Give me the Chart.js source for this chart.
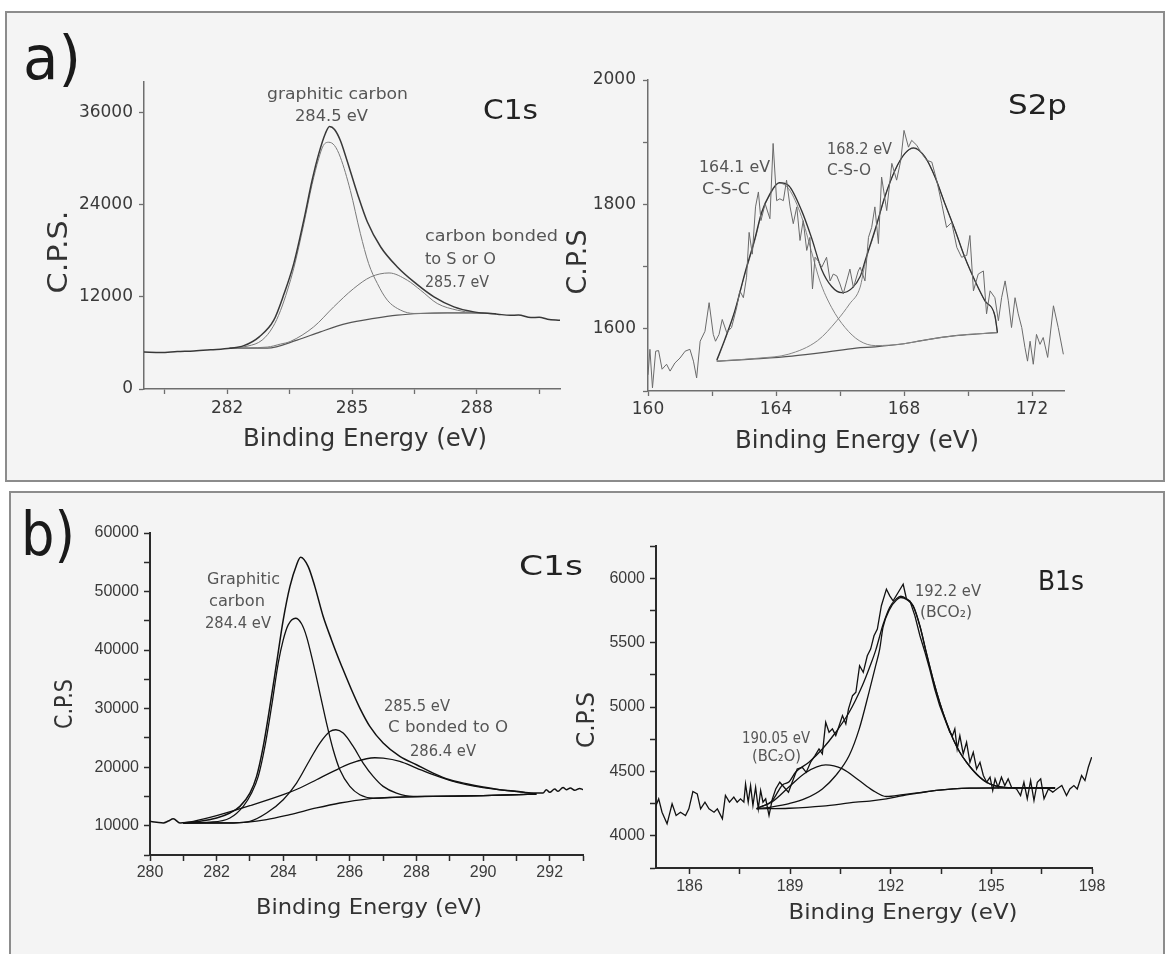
<!DOCTYPE html>
<html><head><meta charset="utf-8">
<script src="https://cdn.jsdelivr.net/npm/chart.js@4.4.1/dist/chart.umd.min.js"></script>
<style>
html,body{margin:0;padding:0;background:#fff;}
#wrap{position:relative;width:1169px;height:954px;overflow:hidden;background:#fff;}
.frame{position:absolute;background:#f4f4f4;border:2px solid #8c8c8c;box-sizing:border-box;}
canvas{position:absolute;left:0;top:0;}
</style></head><body>
<div id="wrap">
<div class="frame" style="left:5px;top:11px;width:1160px;height:471px"></div>
<div class="frame" style="left:9px;top:491px;width:1156px;height:480px"></div>
<canvas id="cA1" width="1169" height="954"></canvas>
<canvas id="cA2" width="1169" height="954"></canvas>
<canvas id="cB1" width="1169" height="954"></canvas>
<canvas id="cB2" width="1169" height="954"></canvas>
</div>
<script>
// ---------------- DATA ----------------
// a) C1s  (binding energy eV, counts per second)
const a1Raw = [[280.0,4810],[280.4,4750],[280.8,4870],[281.2,4950],[281.6,5100],[282.07,5300],[282.4,5650],[282.77,6800],[283.12,8970],[283.36,12300],[283.6,16340],[283.84,21970],[284.04,27170],[284.2,30640],[284.36,33300],[284.46,34190],[284.58,33800],[284.72,32370],[284.88,29770],[285.13,25440],[285.37,21750],[285.69,18500],[286.09,15900],[286.49,13950],[286.97,12000],[287.45,10700],[287.93,10050],[288.5,9750],[288.8,9600],[289.0,9650],[289.3,9300],[289.5,9350],[289.7,9100],[290.0,8970]];
const a1Graphitic = [[282.06,5330],[282.5,5600],[282.84,6370],[283.1,8100],[283.28,10200],[283.45,12900],[283.6,15730],[283.84,21450],[284.04,26650],[284.2,30030],[284.31,31720],[284.44,32150],[284.58,31720],[284.72,30200],[284.96,25870],[285.2,20280],[285.4,16340],[285.61,13740],[285.85,11570],[286.17,10270],[286.49,9840],[287.29,9920],[287.93,9920],[288.46,9800]];
const a1Bonded = [[282.06,5330],[282.96,5460],[283.28,5850],[283.52,6200],[284.08,8100],[284.56,10700],[285.04,13090],[285.45,14600],[285.89,15120],[286.33,14170],[286.65,12870],[287.05,11140],[287.53,10270],[287.93,9920],[288.46,9820]];
const a1Background = [[282.06,5330],[282.96,5330],[283.68,6370],[284.24,7450],[284.88,8540],[285.53,9190],[286.09,9620],[286.65,9840],[287.29,9920],[287.93,9920],[288.46,9820]];

// a) S2p
const a2Raw = [[160.0,1526],[160.06,1567],[160.14,1505],[160.24,1564],[160.33,1565],[160.44,1535],[160.58,1543],[160.69,1532],[160.84,1545],[161.0,1553],[161.16,1564],[161.31,1567],[161.42,1548],[161.52,1521],[161.63,1580],[161.78,1596],[161.91,1642],[162.04,1591],[162.11,1580],[162.22,1591],[162.32,1615],[162.46,1594],[162.61,1602],[162.77,1634],[162.87,1661],[162.98,1650],[163.08,1683],[163.16,1755],[163.26,1720],[163.36,1796],[163.45,1820],[163.53,1774],[163.66,1801],[163.81,1777],[163.91,1898],[164.02,1806],[164.12,1809],[164.23,1806],[164.33,1839],[164.44,1796],[164.54,1769],[164.65,1796],[164.75,1742],[164.85,1774],[164.96,1726],[165.06,1747],[165.14,1664],[165.22,1715],[165.32,1709],[165.43,1699],[165.58,1715],[165.69,1677],[165.79,1688],[165.9,1685],[166.0,1672],[166.1,1656],[166.21,1677],[166.31,1696],[166.42,1666],[166.57,1693],[166.63,1699],[166.78,1677],[166.89,1747],[166.99,1763],[167.09,1796],[167.2,1737],[167.3,1844],[167.46,1790],[167.62,1866],[167.77,1839],[167.9,1871],[168.0,1919],[168.14,1892],[168.24,1903],[168.4,1895],[168.55,1882],[168.71,1871],[168.87,1868],[169.02,1839],[169.18,1801],[169.33,1763],[169.49,1771],[169.65,1731],[169.8,1715],[169.96,1718],[170.06,1750],[170.17,1661],[170.32,1688],[170.48,1693],[170.58,1624],[170.69,1661],[170.84,1650],[170.95,1613],[171.05,1650],[171.16,1677],[171.26,1645],[171.36,1602],[171.47,1650],[171.57,1624],[171.68,1602],[171.78,1570],[171.86,1548],[171.94,1580],[172.04,1543],[172.14,1591],[172.25,1575],[172.35,1586],[172.49,1554],[172.67,1637],[172.82,1602],[172.98,1559]];
const a2Envelope = [[162.15,1550],[162.4,1583],[162.72,1630],[163.03,1690],[163.34,1745],[163.55,1787],[163.81,1817],[164.1,1835],[164.4,1830],[164.8,1790],[165.1,1748],[165.43,1695],[165.74,1668],[166.05,1658],[166.37,1665],[166.63,1684],[166.8,1712],[167.1,1760],[167.4,1812],[167.72,1855],[168.03,1882],[168.3,1891],[168.66,1876],[168.97,1844],[169.28,1801],[169.6,1758],[169.9,1715],[170.22,1677],[170.53,1645],[170.84,1621],[170.92,1594]];
const a2CSC = [[162.15,1548],[162.4,1581],[162.72,1629],[163.03,1688],[163.34,1742],[163.55,1785],[163.81,1815],[164.1,1834],[164.4,1825],[164.8,1780],[165.1,1726],[165.37,1677],[165.74,1634],[166.16,1602],[166.6,1581],[167.1,1573],[168.0,1576],[168.55,1581],[169.6,1589],[170.92,1594]];
const a2CSO = [[162.15,1548],[163.5,1553],[164.38,1559],[165.3,1581],[165.9,1613],[166.3,1640],[166.63,1667],[166.78,1704],[167.1,1758],[167.4,1812],[167.72,1855],[168.03,1882],[168.29,1890],[168.66,1876],[168.97,1844],[169.28,1801],[169.6,1758],[169.9,1715],[170.22,1677],[170.53,1645],[170.84,1621],[170.92,1594]];
const a2Background = [[162.15,1548],[163.5,1552],[164.5,1556],[165.5,1562],[166.5,1569],[167.1,1571],[168.0,1576],[168.55,1581],[169.6,1589],[170.4,1592],[170.92,1594]];

// b) C1s
const b1Raw = [[280.0,10750],[280.2,10600],[280.4,10470],[280.55,10800],[280.7,11200],[280.9,10470],[281.2,10600],[281.5,10750],[282.0,11320],[282.4,12170],[282.7,13310],[283.0,15580],[283.2,18430],[283.4,23550],[283.6,30370],[283.8,37760],[284.0,45160],[284.2,50840],[284.4,54540],[284.52,55850],[284.75,54260],[284.95,50840],[285.2,45730],[285.45,41740],[285.6,39470],[285.8,36630],[286.05,33220],[286.3,30090],[286.6,26960],[287.0,24120],[287.5,21840],[288.0,20420],[288.5,18990],[289.0,17860],[289.5,17180],[290.0,16610],[290.5,16150],[291.0,15870],[291.5,15590],[291.8,15590],[291.9,16160],[292.0,15700],[292.15,16270],[292.25,15870],[292.4,16550],[292.5,16150],[292.62,16440],[292.75,16040],[292.9,16380],[293.0,16150]];
const b1Graphitic = [[281.0,10470],[281.8,10600],[282.4,11320],[282.8,13310],[283.05,15580],[283.25,18430],[283.45,23550],[283.65,30370],[283.85,37760],[284.0,41740],[284.15,44300],[284.37,45440],[284.55,44500],[284.7,42310],[284.9,37760],[285.1,32650],[285.3,27530],[285.5,22980],[285.7,19570],[286.0,16720],[286.3,15300],[286.7,14730],[287.5,14900],[288.5,15020],[290.0,15130],[291.6,15400]];
const b1Peak2855 = [[281.0,10470],[282.5,10500],[283.0,10750],[283.5,12170],[284.0,14450],[284.4,17290],[284.8,21270],[285.1,24120],[285.4,26100],[285.58,26390],[285.8,25820],[286.1,23550],[286.4,20700],[286.7,18430],[287.0,16720],[287.4,15580],[287.9,15020],[288.5,15020],[290.0,15130],[291.6,15400]];
const b1Peak2864 = [[281.0,10470],[281.3,10750],[282.0,11720],[283.0,13420],[284.0,15300],[284.5,16440],[285.0,17860],[285.5,19280],[286.0,20590],[286.5,21440],[286.75,21610],[287.0,21550],[287.5,21000],[288.0,19850],[288.5,18710],[289.0,17750],[289.5,17010],[290.0,16500],[291.0,15810],[291.6,15470]];
const b1Background = [[281.0,10470],[282.5,10470],[283.5,11030],[284.2,11890],[285.0,13030],[285.7,13880],[286.5,14560],[287.5,14900],[288.5,15020],[290.0,15130],[291.6,15400]];

// b) B1s
const b2Raw = [[185.0,4235],[185.08,4287],[185.18,4183],[185.33,4093],[185.48,4248],[185.6,4158],[185.73,4183],[185.88,4158],[185.98,4209],[186.1,4344],[186.23,4326],[186.33,4209],[186.46,4261],[186.58,4209],[186.73,4183],[186.83,4209],[186.98,4132],[187.07,4313],[187.19,4261],[187.32,4300],[187.42,4261],[187.52,4287],[187.62,4261],[187.67,4403],[187.75,4261],[187.82,4390],[187.89,4235],[187.97,4377],[188.05,4209],[188.12,4352],[188.19,4261],[188.27,4287],[188.37,4158],[188.47,4287],[188.57,4364],[188.69,4416],[188.82,4377],[188.95,4339],[189.06,4416],[189.21,4519],[189.36,4532],[189.48,4493],[189.61,4571],[189.74,4623],[189.86,4674],[189.96,4636],[190.06,4881],[190.16,4804],[190.26,4830],[190.36,4778],[190.46,4855],[190.56,4933],[190.66,4868],[190.74,4985],[190.86,5088],[190.96,5114],[191.07,5320],[191.18,5269],[191.3,5398],[191.4,5450],[191.5,5553],[191.6,5605],[191.72,5786],[191.87,5915],[191.97,5863],[192.07,5824],[192.22,5889],[192.37,5953],[192.47,5837],[192.57,5824],[192.72,5708],[192.87,5553],[193.02,5424],[193.16,5295],[193.31,5140],[193.46,5010],[193.61,4907],[193.76,4804],[193.84,4778],[193.91,4830],[193.98,4674],[194.06,4778],[194.16,4636],[194.26,4726],[194.36,4571],[194.46,4649],[194.56,4519],[194.66,4571],[194.76,4468],[194.86,4416],[194.96,4455],[195.04,4352],[195.11,4442],[195.2,4377],[195.3,4455],[195.4,4390],[195.5,4442],[195.6,4377],[195.75,4364],[195.87,4313],[195.97,4416],[196.07,4287],[196.17,4429],[196.27,4274],[196.37,4416],[196.47,4442],[196.57,4287],[196.7,4364],[196.83,4339],[196.95,4364],[197.1,4390],[197.24,4313],[197.34,4364],[197.46,4390],[197.56,4364],[197.69,4468],[197.79,4429],[197.89,4532],[197.99,4610]];
const b2Envelope = [[188.0,4212],[188.47,4275],[188.77,4395],[188.97,4420],[189.16,4493],[189.56,4571],[189.96,4674],[190.36,4804],[190.76,4959],[191.15,5165],[191.4,5330],[191.55,5440],[191.77,5640],[191.97,5775],[192.17,5840],[192.3,5860],[192.47,5840],[192.67,5786],[192.87,5630],[193.06,5424],[193.26,5217],[193.46,5036],[193.66,4881],[193.86,4752],[194.06,4649],[194.26,4571],[194.46,4507],[194.66,4455],[194.86,4416],[195.11,4390],[195.35,4377],[195.85,4372],[196.9,4370]];
const b2BCO2 = [[188.0,4209],[188.47,4225],[188.97,4250],[189.46,4290],[189.96,4364],[190.36,4468],[190.76,4623],[191.06,4830],[191.35,5114],[191.55,5321],[191.67,5450],[191.77,5620],[191.97,5760],[192.17,5830],[192.3,5850],[192.47,5835],[192.67,5780],[192.87,5625],[193.06,5420],[193.26,5215],[193.46,5034],[193.66,4880],[193.86,4750],[194.06,4647],[194.26,4570],[194.46,4505],[194.66,4453],[194.86,4414],[195.11,4388],[195.35,4376],[195.85,4372],[196.9,4370]];
const b2BC2O = [[188.0,4212],[188.47,4265],[188.97,4380],[189.46,4490],[190.06,4550],[190.56,4519],[191.06,4429],[191.45,4355],[191.87,4305],[192.37,4320],[192.87,4336],[193.36,4352],[193.86,4364],[194.36,4370],[195.35,4372],[196.9,4372]];
const b2Background = [[188.0,4209],[188.97,4214],[189.96,4230],[190.96,4261],[191.37,4270],[191.87,4287],[192.37,4313],[192.87,4333],[193.36,4352],[193.86,4364],[194.36,4370],[195.35,4372],[196.9,4372]];

// tick labels
const a1XLabels = [282, 285, 288];
const a1YLabels = [0, 12000, 24000, 36000];
const a2XLabels = [160, 164, 168, 172];
const a2YLabels = [1600, 1800, 2000];
const b1XLabels = [280, 282, 284, 286, 288, 290, 292];
const b1YLabels = [10000, 20000, 30000, 40000, 50000, 60000];
const b2XLabels = [186, 189, 192, 195, 198];
const b2YLabels = [4000, 4500, 5000, 5500, 6000];

// ---------------- DRAWING ----------------
const W = 1169, H = 954;
const SANS = '"DejaVu Sans", "Noto Sans", sans-serif';

function drawLabel(ctx, o) {
  ctx.save();
  ctx.font = (o.weight || 400) + ' ' + o.size + 'px ' + (o.family || SANS);
  ctx.fillStyle = o.color || '#555';
  ctx.textAlign = 'center';
  ctx.textBaseline = 'middle';
  const m = ctx.measureText(o.t).width;
  const sx = o.w ? o.w / m : 1;
  ctx.translate(o.cx, o.cy);
  if (o.rot) ctx.rotate(-Math.PI / 2);
  ctx.scale(sx, 1);
  ctx.fillText(o.t, 0, 0);
  ctx.restore();
}
const textPlugin = {
  id: 'texts',
  afterDraw(chart, args, opts) {
    (opts.items || []).forEach(o => drawLabel(chart.ctx, o));
  }
};

function toXY(arr) { return arr.map(p => ({x: p[0], y: p[1]})); }
function ds(arr, color, width, smooth) {
  return {
    data: toXY(arr), borderColor: color, borderWidth: width, pointRadius: 0,
    fill: false, tension: 0, cubicInterpolationMode: smooth ? 'monotone' : 'default'
  };
}
function axis(o, horizontal, st) {
  return {
    type: 'linear', position: horizontal ? 'bottom' : 'left', min: o.min, max: o.max,
    border: {display: true, color: st.axisColor, width: st.axisWidth},
    grid: {display: true, drawOnChartArea: false, drawTicks: true, tickLength: st.tickLen,
           tickColor: st.axisColor, tickWidth: st.tickWidth},
    ticks: {autoSkip: false, maxRotation: 0, minRotation: 0,
            padding: o.pad, color: st.tickColor,
            font: {family: st.tickFamily, size: st.tickSize},
            callback: v => { const l = o.labels.find(x => Math.abs(x - v) < 1e-6); return l === undefined ? '' : String(l); }},
    afterBuildTicks: s => {
      const t = [];
      const first = Math.ceil((o.min - 1e-9) / o.step) * o.step;
      for (let k = 0; first + k * o.step <= o.max + 1e-9; k++) t.push({value: +(first + k * o.step).toFixed(6)});
      s.ticks = t;
    },
    afterFit: s => { if (horizontal) s.height = o.box; else s.width = o.box; }
  };
}
function makeChart(id, area, xo, yo, datasets, st, items) {
  xo.box = H - area.b; yo.box = area.l;
  new Chart(document.getElementById(id), {
    type: 'line',
    data: {datasets},
    options: {
      responsive: false, animation: false, devicePixelRatio: 1,
      layout: {padding: {left: 0, top: area.t, right: W - area.r, bottom: 0}},
      plugins: {legend: {display: false}, tooltip: {enabled: false}, texts: {items}},
      scales: {x: axis(xo, true, st), y: axis(yo, false, st)}
    },
    plugins: [textPlugin]
  });
}

const styleA = {axisColor: '#6e6e6e', axisWidth: 1.5, tickLen: 5, tickWidth: 1.3, tickColor: '#3a3a3a', tickFamily: SANS, tickSize: 17};
const styleB = {axisColor: '#2a2a2a', axisWidth: 2, tickLen: 6, tickWidth: 1.5, tickColor: '#3a3a3a', tickFamily: '"Liberation Sans", Arial, sans-serif', tickSize: 16};
const gA = '#555', gT = '#333', gH = '#222';

// a) C1s
makeChart('cA1', {l: 144, t: 82, r: 560, b: 389},
  {min: 280, max: 290, step: 1.5, labels: a1XLabels, pad: 4},
  {min: 0, max: 40000, step: 12000, labels: a1YLabels, pad: 6},
  [ds(a1Raw, '#383838', 1.5, true), ds(a1Graphitic, '#7a7a7a', 1, true), ds(a1Bonded, '#7a7a7a', 1, true), ds(a1Background, '#555', 1.2, true)],
  styleA,
  [
    {t: 'a)', cx: 52, cy: 63, w: 58, size: 60, color: '#1a1a1a'},
    {t: 'graphitic carbon', cx: 337.5, cy: 95, w: 141, size: 16, color: gA},
    {t: '284.5 eV', cx: 331.5, cy: 117, w: 73, size: 16, color: gA},
    {t: 'C1s', cx: 510.5, cy: 112, w: 55, size: 26, color: gH},
    {t: 'carbon bonded', cx: 491.5, cy: 237, w: 133, size: 16, color: gA},
    {t: 'to S or O', cx: 460.5, cy: 260, w: 71, size: 16, color: gA},
    {t: '285.7 eV', cx: 457, cy: 283, w: 64, size: 16, color: gA},
    {t: 'C.P.S.', cx: 60, cy: 252, w: 83, size: 27, rot: true, color: gT},
    {t: 'Binding Energy (eV)', cx: 365, cy: 440, w: 244, size: 24, color: gT}
  ]);

// a) S2p
makeChart('cA2', {l: 648, t: 80, r: 1064, b: 391},
  {min: 160, max: 173, step: 2, labels: a2XLabels, pad: 3},
  {min: 1500, max: 2000, step: 100, labels: a2YLabels, pad: 7},
  [ds(a2Raw, '#6a6a6a', 1, false), ds(a2Envelope, '#333', 1.3, true), ds(a2CSC, '#858585', 1, true), ds(a2CSO, '#858585', 1, true), ds(a2Background, '#555', 1.2, true)],
  styleA,
  [
    {t: 'S2p', cx: 1037.5, cy: 107, w: 59, size: 26, color: gH},
    {t: '164.1 eV', cx: 734.5, cy: 168, w: 71, size: 15, color: gA},
    {t: 'C-S-C', cx: 726, cy: 190, w: 48, size: 15, color: gA},
    {t: '168.2 eV', cx: 859.5, cy: 150, w: 65, size: 15, color: gA},
    {t: 'C-S-O', cx: 849, cy: 171, w: 44, size: 15, color: gA},
    {t: 'C.P.S', cx: 579, cy: 262, w: 65, size: 26, rot: true, color: gT},
    {t: 'Binding Energy (eV)', cx: 857, cy: 442, w: 244, size: 24, color: gT}
  ]);

// b) C1s
makeChart('cB1', {l: 150, t: 533, r: 583, b: 855},
  {min: 280, max: 293, step: 1, labels: b1XLabels, pad: 2},
  {min: 5000, max: 60000, step: 5000, labels: b1YLabels, pad: 5},
  [ds(b1Raw, '#111', 1.5, true), ds(b1Graphitic, '#111', 1.3, true), ds(b1Peak2855, '#111', 1.3, true), ds(b1Peak2864, '#111', 1.3, true), ds(b1Background, '#111', 1.3, true)],
  styleB,
  [
    {t: 'b)', cx: 48, cy: 539, w: 54, size: 60, color: '#1a1a1a'},
    {t: 'C1s', cx: 551, cy: 568, w: 64, size: 26, color: gH},
    {t: 'Graphitic', cx: 243.5, cy: 580, w: 73, size: 15, color: gA},
    {t: 'carbon', cx: 237, cy: 602, w: 56, size: 15, color: gA},
    {t: '284.4 eV', cx: 238, cy: 624, w: 66, size: 15, color: gA},
    {t: '285.5 eV', cx: 417, cy: 707, w: 66, size: 15, color: gA},
    {t: 'C bonded to O', cx: 448, cy: 728, w: 120, size: 15, color: gA},
    {t: '286.4 eV', cx: 443, cy: 752, w: 66, size: 15, color: gA},
    {t: 'C.P.S', cx: 66, cy: 704, w: 50, size: 24, rot: true, color: gT},
    {t: 'Binding Energy (eV)', cx: 369, cy: 908, w: 226, size: 22, color: gT}
  ]);

// b) B1s
makeChart('cB2', {l: 656, t: 546, r: 1092, b: 868},
  {min: 185, max: 198, step: 1.5, labels: b2XLabels, pad: 3},
  {min: 3750, max: 6250, step: 250, labels: b2YLabels, pad: 5},
  [ds(b2Raw, '#111', 1.3, false), ds(b2Envelope, '#111', 1.3, true), ds(b2BCO2, '#111', 1.3, true), ds(b2BC2O, '#111', 1.3, true), ds(b2Background, '#111', 1.3, true)],
  styleB,
  [
    {t: 'B1s', cx: 1061, cy: 583, w: 46, size: 26, color: gH},
    {t: '192.2 eV', cx: 948, cy: 592, w: 66, size: 15, color: gA},
    {t: '(BCO\u2082)', cx: 946, cy: 613, w: 52, size: 15, color: gA},
    {t: '190.05 eV', cx: 776, cy: 739, w: 68, size: 15, color: gA},
    {t: '(BC\u2082O)', cx: 776.5, cy: 757, w: 49, size: 15, color: gA},
    {t: 'C.P.S', cx: 588, cy: 720, w: 56, size: 24, rot: true, color: gT},
    {t: 'Binding Energy (eV)', cx: 903, cy: 913, w: 229, size: 22, color: gT}
  ]);
</script>
</body></html>
